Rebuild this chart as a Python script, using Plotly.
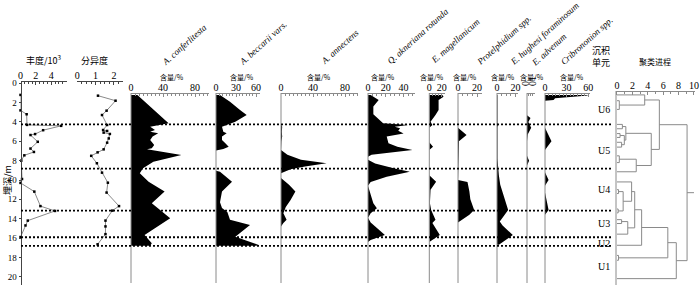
import plotly.graph_objects as go

W, H = 700, 288

# ---------------- data ----------------
abund_depth = [1.2, 2.8, 3.2, 4.3, 4.4, 4.85, 5.25, 5.35, 6.05, 6.75, 7.1, 7.45, 8.0, 9.9, 10.3, 11.2, 12.7, 13.2, 14.2, 14.7, 15.9]
abund_val = [0, 0, 0.8, 0.85, 5.3, 2.95, 1.9, 1.3, 2.25, 1.3, 1.75, 0.5, 0.1, 0.2, 0, 1.8, 2.6, 4.5, 0.95, 0.65, 0]

div_depth = [1.28, 1.8, 2.83, 3.28, 4.31, 4.83, 4.93, 5.1, 5.24, 5.7, 6.14, 6.83, 7.14, 7.5, 8.27, 9.24, 10.28, 11.3, 12.7, 13.17, 14.2, 14.8, 15.6, 16.65]
div_val = [1.13, 2.09, 1.6, 1.35, 1.63, 1.41, 1.63, 1.44, 1.78, 1.72, 1.63, 1.44, 1.11, 0.76, 1.07, 1.35, 1.67, 1.6, 2.28, 1.91, 1.54, 1.54, 1.54, 1.11]

conf_depth = [1.2, 2.76, 3.45, 4.14, 4.49, 4.83, 5.0, 5.17, 5.5, 5.86, 6.38, 6.72, 6.83, 7.41, 8.1, 8.79, 9.3, 10.18, 11.2, 12.4, 13.96, 15.5, 15.7, 16.55, 16.8]
conf_val = [8, 28, 38, 47, 24, 30, 24, 34, 27, 24, 29, 26, 20, 63, 28, 15, 11, 22, 42, 26, 49, 22, 17, 26, 24]

becc_depth = [1.2, 1.9, 2.76, 3.28, 3.97, 4.3, 4.49, 5.0, 5.17, 5.5, 5.86, 6.2, 6.55, 6.8, 6.95, 9.05, 9.15, 10.18, 11.2, 12.3, 12.9, 13.3, 14.1, 14.65, 15.86, 16.72, 16.8]
becc_val = [6, 21, 36, 46, 29, 16, 9, 11, 16, 9, 9, 14, 19, 11, 0, 0, 6, 24, 9, 6, 9, 17, 21, 51, 29, 64, 60]

anne_depth = [1.2, 4.2, 4.5, 5.0, 5.5, 6.0, 6.9, 7.4, 7.9, 8.27, 8.6, 8.9, 9.3, 9.8, 10.5, 11.2, 12.07, 12.8, 13.45, 14.1, 14.45, 14.8, 16.8]
anne_val = [0, 0, 1.5, 1, 1.5, 0.5, 0, 8, 25, 57, 30, 12, 0, 0, 10, 18, 12, 6, 3, 7, 3, 0, 0]

qakn_depth = [1.2, 1.73, 2.4, 3.2, 4.14, 4.3, 4.5, 4.66, 4.9, 5.2, 5.5, 6.2, 6.55, 6.9, 7.4, 7.6, 7.9, 8.3, 8.8, 9.14, 9.66, 10.2, 10.6, 11.4, 12.4, 12.93, 13.45, 13.9, 14.4, 15.7, 16.2, 16.4]
qakn_val = [3, 12, 6, 6, 17, 45, 30, 36, 34, 40, 21, 23, 33, 50, 4, 0, 0, 8, 30, 47, 21, 3, 0, 3, 6, 10, 3, 0, 3, 19, 3, 0]

emag_depth = [1.2, 1.38, 1.73, 2.76, 3.28, 3.97, 4.3, 4.6, 6.1, 6.55, 6.9, 9.5, 10.18, 11.0, 12.4, 13.1, 14.1, 14.45, 15.7, 16.2, 16.4]
emag_val = [21, 23, 15, 15, 10, 2, 5, 0, 0, 6, 0, 0, 11, 2, 1, 3, 10, 5, 17, 5, 0]

prot_depth = [1.2, 4.6, 5.35, 6.0, 10.0, 10.2, 11.2, 12.0, 13.1, 13.6, 14.4, 16.8]
prot_val = [0, 0, 9, 1, 0, 10, 12, 13, 17, 12, 0, 0]

hugh_depth = [1.2, 4.1, 4.3, 4.5, 7.8, 8.5, 9.5, 10.5, 11.3, 13.1, 14.3, 14.7, 15.7, 16.7]
hugh_val = [0.5, 0.5, 1.5, 0.5, 0.5, 1, 2, 3.5, 6, 12, 3, 6, 17, 2]

adve_depth = [1.2, 3.3, 3.6, 4.0, 4.3, 4.6, 5.3, 6.0, 7.5, 8.0, 8.5, 16.8]
adve_val = [0, 0, 5, 2, 4, 6, 1, 0, 0, 3, 0, 0]

crib_depth = [1.2, 1.27, 1.55, 1.72, 1.8, 4.6, 6.0, 6.9, 9.2, 10.0, 10.6, 11.3, 13.1, 13.6]
crib_val = [58, 60, 14, 12, 0, 0, 9, 0, 0, 5, 0, 0, 5, 0]

unit_bounds = [4.24, 8.83, 13.17, 15.92, 16.82]
unit_names = ["U6", "U5", "U4", "U3", "U2", "U1"]
unit_label_depth = [2.76, 6.9, 11.0, 14.45, 16.6, 18.9]

species_names = ["A. conferlitesta", "A. beccarii vars.", "A. annectens", "Q. akneriana rotunda",
                 "E. magellanicum", "Protelphidium spp.", "E. hughesi foraminosum", "E. advenum",
                 "Cribrononion spp."]
species_ticks = [[0, 40, 80], [0, 30, 60], [0, 40, 80], [0, 20, 40], [0, 20], [0, 20], [0, 20], [0, 10], [0, 30, 60]]
depth_ticks = list(range(0, 21, 2))
abund_ticks = [0, 2, 4, 6]
div_ticks = [0, 1, 2]
dendro_ticks = [0, 2, 4, 6, 8, 10]

# dendrogram: leaf depths + scipy-style linkage rows [child_a, child_b, height]
dendro_leaf_depth = [1.2, 1.8, 2.7, 4.25, 4.7, 5.2, 5.6, 6.1, 6.6, 7.5, 8.2, 9.15,
                     10.2, 11.0, 11.4, 13.0, 13.4, 14.1, 14.5, 15.6, 16.75, 17.8, 18.3, 20.2]
dendro_links = [
    [1, 2, 0.3], [0, 24, 3.6], [3, 4, 0.7], [5, 6, 0.4], [7, 8, 0.6], [27, 28, 0.95],
    [26, 29, 1.15], [9, 10, 0.3], [31, 11, 2.5], [30, 32, 4.45], [25, 33, 5.5],
    [13, 14, 0.2], [15, 16, 0.15], [35, 36, 0.8], [12, 37, 1.9], [17, 18, 0.6],
    [39, 19, 1.4], [38, 40, 2.3], [41, 20, 3.2], [21, 22, 0.2], [42, 43, 6.6],
    [44, 23, 7.7], [34, 45, 9.1],
]
dendro_root_end = 10.0

# ---------------- layout geometry (pixels) ----------------
def pxx(x):
    return x / W

def pyy(y):
    return 1 - y / H

D0 = 83.3      # pixel y of depth 0
PPM = 9.67     # pixels per metre
AX_TOP = 80.7
AX_BOT = 285.0
def depth_of(ypix):
    return (ypix - D0) / PPM

SERIF = "Liberation Serif"
CJK = "Noto Sans CJK SC"
GRAY = "#8a8a8a"

fig = go.Figure()
layout = dict(
    template="none",
    width=W, height=H, margin=dict(l=0, r=0, t=0, b=0, pad=0, autoexpand=False),
    paper_bgcolor="white", plot_bgcolor="rgba(0,0,0,0)", showlegend=False,
)

layout["yaxis"] = dict(
    domain=[pyy(AX_BOT), pyy(AX_TOP)], range=[depth_of(AX_BOT), depth_of(AX_TOP)],
    anchor="free", position=pxx(20.5), side="left", automargin=False,
    showline=True, linecolor="#444", linewidth=1,
    ticks="outside", ticklen=2, tickcolor="#444",
    tickvals=depth_ticks, tickfont=dict(family=SERIF, size=9, color="black"),
    showgrid=False, zeroline=False, fixedrange=True,
)

def add_xaxis(idx, px0, ppu, pxend, axis_py, tickvals, minor, lincol=GRAY):
    rng = [0, (pxend - px0) / ppu]
    key = "xaxis" if idx == 1 else "xaxis%d" % idx
    layout[key] = dict(
        domain=[pxx(px0), pxx(pxend)], range=rng, anchor="free", position=pyy(axis_py),
        side="top", showline=True, linecolor=lincol, linewidth=1, automargin=False,
        ticks="inside", ticklen=3, tickcolor=lincol, tickvals=tickvals, ticklabelstandoff=-2,
        tickfont=dict(family=SERIF, size=10, color="black"),
        showgrid=False, zeroline=False, fixedrange=True,
        minor=dict(ticks="inside", ticklen=2, dtick=minor, tickcolor=lincol, showgrid=False),
    )
    return "x" if idx == 1 else "x%d" % idx

# abundance / diversity
xa = add_xaxis(1, 20.5, 7.67, 66.5, AX_TOP, abund_ticks, 0.5, "#444")
xd = add_xaxis(2, 77.3, 18.3, 122.5, AX_TOP, div_ticks, 0.25, "#444")
for xv, yv, xr in ((abund_val, abund_depth, xa), (div_val, div_depth, xd)):
    fig.add_trace(go.Scatter(x=xv, y=yv, xaxis=xr, yaxis="y", mode="lines+markers",
                             line=dict(color=GRAY, width=1),
                             marker=dict(size=2.5, color="black", symbol="square"),
                             cliponaxis=False))

# species panels: (px of zero, px per unit, px end of axis, minor dtick)
panel_geom = [
    (131, 0.8, 209, 5), (216, 0.667, 259.5, 5), (281, 0.8, 358, 5), (368, 0.89, 415, 5),
    (429.3, 0.62, 445, 5), (458, 0.95, 481.7, 5), (497, 0.93, 518, 5), (527, 0.7, 534.5, 2.5),
    (545, 0.72, 590, 5),
]
species_depths = [conf_depth, becc_depth, anne_depth, qakn_depth, emag_depth, prot_depth, hugh_depth, adve_depth, crib_depth]
species_vals = [conf_val, becc_val, anne_val, qakn_val, emag_val, prot_val, hugh_val, adve_val, crib_val]
SP_AX = 93.0
shapes = []
for i, (g, dep, val, tv) in enumerate(zip(panel_geom, species_depths, species_vals, species_ticks)):
    px0, ppu, pxe, mn = g
    xr = add_xaxis(3 + i, px0, ppu, pxe, SP_AX, tv, mn)
    fig.add_trace(go.Scatter(x=val, y=dep, xaxis=xr, yaxis="y", mode="lines", fill="tozerox",
                             fillcolor="black", line=dict(color="black", width=0)))
    shapes.append(dict(type="line", xref="paper", yref="y", x0=pxx(px0), x1=pxx(px0),
                       y0=depth_of(SP_AX), y1=depth_of(283), line=dict(color=GRAY, width=1)))

# dendrogram
DX0, DPPU = 617.0, 7.7
xdn = add_xaxis(12, DX0 - 0.15 * DPPU, DPPU, DX0 + 10.15 * DPPU, 91.0, dendro_ticks, 1)
layout["xaxis12"]["range"] = [-0.15, 10.15]
n = len(dendro_leaf_depth)
pos = list(dendro_leaf_depth)
hgt = [0.0] * n
dx, dy = [], []
for a, b, h in dendro_links:
    dx += [hgt[a], h, h, hgt[b], None]
    dy += [pos[a], pos[a], pos[b], pos[b], None]
    pos.append((pos[a] + pos[b]) / 2)
    hgt.append(h)
dx += [hgt[-1], dendro_root_end, None]
dy += [pos[-1], pos[-1], None]
fig.add_trace(go.Scatter(x=dx, y=dy, xaxis=xdn, yaxis="y", mode="lines",
                         line=dict(color=GRAY, width=1)))
shapes.append(dict(type="line", xref="paper", yref="y", x0=pxx(DX0 - 1), x1=pxx(DX0 - 1),
                   y0=depth_of(91), y1=depth_of(285), line=dict(color=GRAY, width=1)))

# unit boundaries (dotted)
for d in unit_bounds:
    shapes.append(dict(type="line", xref="paper", yref="y", x0=pxx(21), x1=pxx(612), y0=d, y1=d,
                       line=dict(color="black", width=1.8, dash="2px,2px")))

annotations = []
def txt(text, x, y, size=10, family=SERIF, xanchor="center", yanchor="middle", angle=0, yref="paper"):
    annotations.append(dict(text=text, x=pxx(x), y=(pyy(y) if yref == "paper" else y), xref="paper", yref=yref,
                            showarrow=False, xanchor=xanchor, yanchor=yanchor, textangle=angle,
                            font=dict(family=family, size=size, color="black")))

txt("丰度/10<sup>3</sup>", 44, 60, size=9, family=CJK)
txt("分异度", 94, 60, size=9, family=CJK)
txt("埋深/m", 7, 180, size=9, family=CJK, angle=-90)

title_start = [(163, 70), (241, 70), (322, 69), (389, 69), (432, 68), (478, 70), (511, 70), (532, 71), (562, 70)]
for name, (sx, sy) in zip(species_names, title_start):
    annotations.append(dict(text="<i>%s</i>" % name, x=pxx(sx - 6), y=pyy(sy), xref="paper", yref="paper",
                            showarrow=False, xanchor="left", yanchor="bottom", textangle=-42,
                            font=dict(family=SERIF, size=9, color="black")))

content_pos = [(171.7, 77), (241.7, 77), (319, 77), (383, 77), (431.7, 77), (465, 77), (503, 77), (532, 77), (571.7, 77)]
for (cx, cy) in content_pos:
    txt("含量/%", cx, cy, size=7, family=CJK)

txt("沉积", 601, 50, size=9, family=CJK)
txt("单元", 601, 62, size=9, family=CJK)
txt("聚类进程", 655, 61, size=8, family=CJK)
for name, d in zip(unit_names, unit_label_depth):
    txt(name, 604, d, size=10, yref="y")

layout["shapes"] = shapes
layout["annotations"] = annotations
fig.update_layout(**layout)
fig.write_html("out.html", config={"displayModeBar": False},
               post_script="document.body.style.margin='0px';document.body.style.overflow='hidden';")
